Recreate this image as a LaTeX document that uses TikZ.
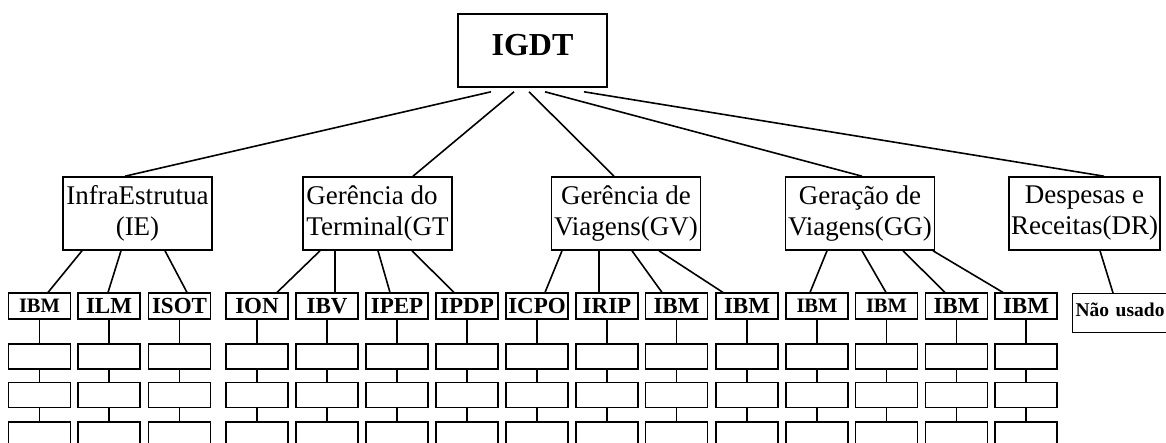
\documentclass[tikz,border=0pt]{standalone}
\usepackage{fontspec}
\setmainfont{Liberation Serif}
\begin{document}
\begin{tikzpicture}[x=1pt, y=-1pt, line width=1.6pt,
  midbox/.style={draw, minimum width=149pt, minimum height=73pt, inner sep=2pt, align=center, font=\fontsize{27}{31}\selectfont},
  leafbox/.style={draw, line width=1.1pt, minimum width=62pt, minimum height=26pt, inner sep=0pt, font=\fontsize{23}{27}\selectfont\bfseries},
  leafsmall/.style={leafbox, font=\fontsize{20.5}{24}\selectfont\bfseries},
  cellbox/.style={draw, minimum width=62pt, minimum height=25pt, inner sep=0pt}]
\clip (0,0) rectangle (1166,443);

\node[draw, minimum width=149pt, minimum height=73pt, text depth=11pt, font=\fontsize{32}{38}\selectfont\bfseries] (IG) at (532.5,50.5) {IGDT};

\node[midbox] (IE) at (137.5,213.5) {InfraEstrutua\\(IE)};
\node[midbox, align=left] (GT) at (377.5,213.5) {Gerência do\\Terminal(GT};
\node[midbox] (GV) at (626,213.5) {Gerência de\\Viagens(GV)};
\node[midbox] (GG) at (860,213.5) {Geração de\\Viagens(GG)};
\node[midbox] (DR) at (1084.5,213.5) {Despesas e\\Receitas(DR)};

\node[leafsmall] (L1) at (39.5,306) {IBM};
\node[leafbox] (L2) at (109,306) {ILM};
\node[leafbox] (L3) at (179.5,306) {ISOT};
\node[leafbox] (L4) at (257,306) {ION};
\node[leafbox] (L5) at (327,306) {IBV};
\node[leafbox] (L6) at (397,306) {IPEP};
\node[leafbox] (L7) at (467,306) {IPDP};
\node[leafbox] (L8) at (537,306) {ICPO};
\node[leafbox] (L9) at (607,306) {IRIP};
\node[leafbox] (L10) at (676.5,306) {IBM};
\node[leafbox] (L11) at (747,306) {IBM};
\node[leafsmall] (L12) at (817,306) {IBM};
\node[leafsmall] (L13) at (886.5,306) {IBM};
\node[leafbox] (L14) at (956.5,306) {IBM};
\node[leafbox] (L15) at (1026,306) {IBM};
\node[draw, line width=1.3pt, anchor=north west, minimum height=39pt, text width=99pt, inner sep=3pt, align=left, text depth=7pt, font=\fontsize{19.5}{23}\selectfont\bfseries] (NU) at (1072,293) {Não usado};

% empty boxes under each label
\foreach \x [count=\i] in {39.5,109,179.5,257,327,397,467,537,607,676.5,747,817,886.5,956.5,1026} {
  \node[cellbox] (A\i) at (\x,356.5) {};
  \node[cellbox] (B\i) at (\x,395) {};
  \node[cellbox] (C\i) at (\x,434.5) {};
  \draw (L\i) -- (A\i);
  \draw (A\i) -- (B\i);
  \draw (B\i) -- (C\i);
}

\draw ([xshift=-41.5pt,yshift=-4pt]IG.south) -- ([xshift=-12.5pt]IE.north);
\draw ([xshift=-18.5pt,yshift=-4pt]IG.south) -- ([xshift=35.5pt]GT.north);
\draw ([xshift=-3.5pt,yshift=-4pt]IG.south) -- ([xshift=-12pt]GV.north);
\draw ([xshift=12.5pt,yshift=-4pt]IG.south) -- ([xshift=2pt]GG.north);
\draw ([xshift=51.5pt,yshift=-4pt]IG.south) -- ([xshift=19.5pt]DR.north);

\draw ([xshift=-55.5pt]IE.south) -- ([xshift=8.5pt]L1.north);
\draw ([xshift=-16.5pt]IE.south) -- ([xshift=-1pt]L2.north);
\draw ([xshift=27.5pt]IE.south) -- ([xshift=7.5pt]L3.north);

\draw ([xshift=-57.5pt]GT.south) -- ([xshift=20pt]L4.north);
\draw ([xshift=-42.5pt]GT.south) -- ([xshift=8pt]L5.north);
\draw ([xshift=0.5pt]GT.south) -- ([xshift=-7pt]L6.north);
\draw ([xshift=34.5pt]GT.south) -- ([xshift=-13pt]L7.north);

\draw ([xshift=-64pt]GV.south) -- ([xshift=8pt]L8.north);
\draw ([xshift=-27pt]GV.south) -- ([xshift=-8pt]L9.north);
\draw ([xshift=6pt]GV.south) -- ([xshift=-14.5pt]L10.north);
\draw ([xshift=33pt]GV.south) -- ([xshift=-24pt]L11.north);

\draw ([xshift=-33pt]GG.south) -- ([xshift=-7pt]L12.north);
\draw ([xshift=2pt]GG.south) -- ([xshift=-0.5pt]L13.north);
\draw ([xshift=43pt]GG.south) -- ([xshift=-11.5pt]L14.north);
\draw ([xshift=73pt]GG.south) -- ([xshift=-23pt]L15.north);

\draw ([xshift=15.5pt]DR.south) -- ([xshift=41pt]NU.north west);
\end{tikzpicture}
\end{document}
